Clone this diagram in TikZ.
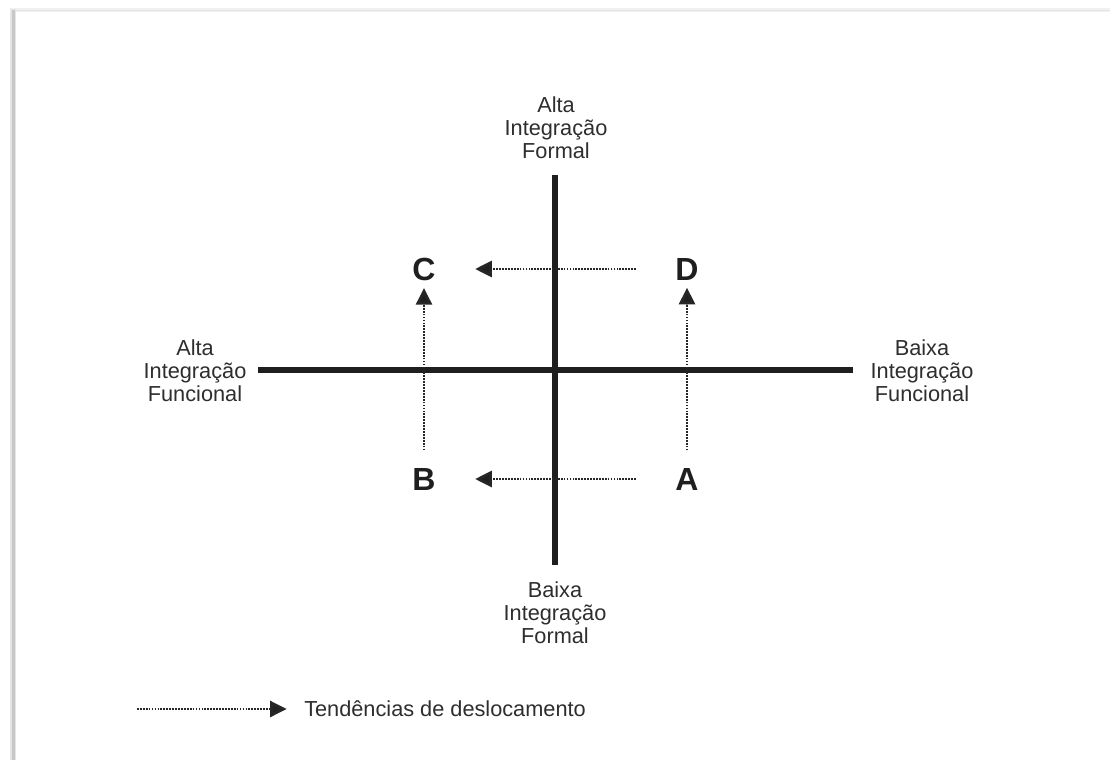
\documentclass[tikz,border=0pt]{standalone}
\usepackage{fontspec}
\setmainfont{Liberation Sans}
\usetikzlibrary{arrows.meta}
\begin{document}
\begin{tikzpicture}[x=0.75pt,y=-0.75pt,
  lbl/.style={align=center, font=\fontsize{16.3}{17.2}\selectfont, text=black!82, inner sep=0pt},
  letter/.style={font=\fontsize{24}{24}\selectfont\bfseries, text=black!88, inner sep=0pt},
  axisline/.style={line width=5pt, draw=black!88},
  trend/.style={line width=2.1pt, draw=black!85, dash pattern=on 1.3pt off 0.9pt,
    -{Triangle[length=12.5pt,width=12pt,fill=black!88]}}]
\fill[white] (0,0) rectangle (1110,760);
\useasboundingbox (0,0) rectangle (1110,760);
% frame shadow
\fill[black!6] (10,8) rectangle (1110,12);
\fill[black!10] (11,9.5) rectangle (1110,11);
\fill[black!10] (10,9) rectangle (16,760);
\fill[black!22] (11.5,10) rectangle (14.5,760);
% axes labels
\node[lbl] (top) at (556,128) {Alta\\Integração\\Formal};
\node[lbl] (bot) at (555,613) {Baixa\\Integração\\Formal};
\node[lbl] (lft) at (195,371) {Alta\\Integração\\Funcional};
\node[lbl] (rgt) at (922,371) {Baixa\\Integração\\Funcional};
% axes
\coordinate (vt) at (555,175);
\coordinate (vb) at (555,565);
\coordinate (hl) at (258,370);
\coordinate (hr) at (853,370);
\draw[axisline] (vt) -- (vb);
\draw[axisline] (hl) -- (hr);
% letters
\node[letter] (C) at (424,269) {C};
\node[letter] (D) at (687,269) {D};
\node[letter] (B) at (424,479) {B};
\node[letter] (A) at (687,479) {A};
% trends
\draw[trend, shorten <=29.5pt, shorten >=29.5pt] (D) -- (C);
\draw[trend, shorten <=29.5pt, shorten >=29.5pt] (A) -- (B);
\draw[trend, shorten <=13pt, shorten >=5.6pt] (B) -- (C);
\draw[trend, shorten <=13pt, shorten >=5.6pt] (A) -- (D);
% legend
\node[lbl, anchor=base west] (leg) at (304,716) {Tendências de deslocamento};
\coordinate (lgs) at (137,709);
\draw[trend, shorten >=13pt] (lgs) -- (lgs -| leg.west);
\end{tikzpicture}
\end{document}
